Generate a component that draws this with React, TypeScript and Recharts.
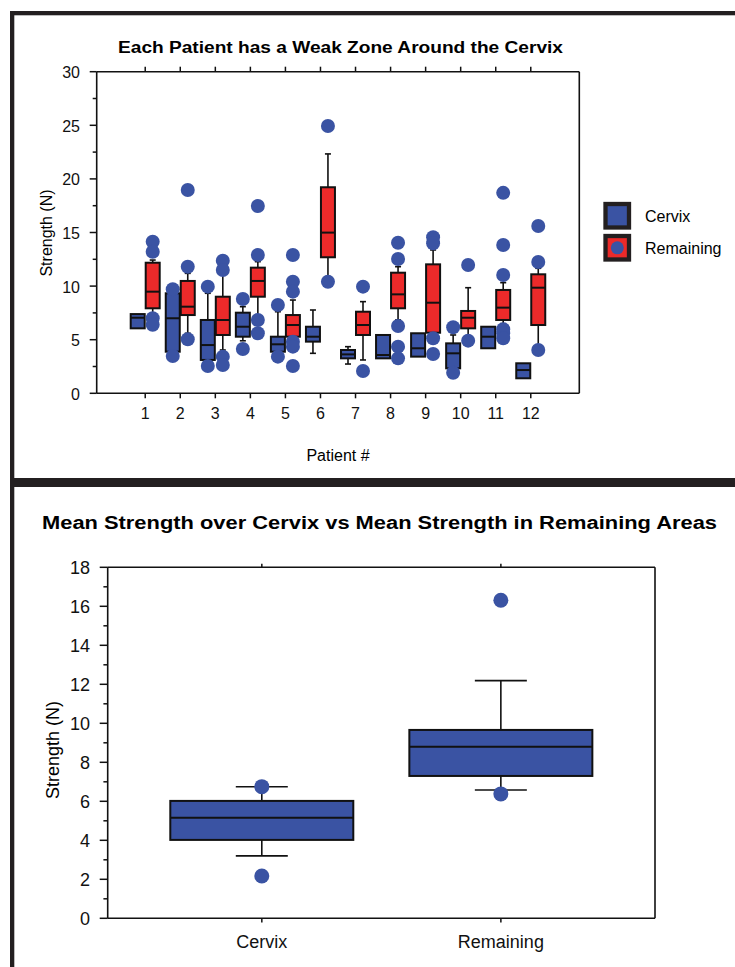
import { Bar, ComposedChart, XAxis, YAxis } from "recharts";

// ---- top panel: per patient box plots ----
const patients = ["1", "2", "3", "4", "5", "6", "7", "8", "9", "10", "11", "12"];

const cervixQ1 = [6.06, 3.88, 3.11, 5.28, 3.88, 4.82, 3.26, 3.26, 3.42, 2.33, 4.2, 1.4];
const cervixMed = [7.05, 7.0, 4.5, 6.21, 4.57, 5.28, 3.63, 3.57, 4.2, 3.73, 5.28, 2.17];
const cervixQ3 = [7.39, 9.33, 6.84, 7.52, 5.28, 6.21, 4.04, 5.44, 5.6, 4.66, 6.21, 2.8];
const cervixLo = [6.06, 3.88, 3.0, 4.9, 3.88, 3.73, 2.73, 3.26, 3.42, 2.33, 4.2, 1.4];
const cervixHi = [7.39, 9.33, 9.33, 8.08, 7.61, 7.77, 4.35, 5.44, 5.6, 5.44, 6.21, 2.8];
const cervixOut = [[], [9.7, 3.48], [9.95, 2.55], [8.8, 4.13], [8.24, 3.42], [], [], [], [], [6.16, 1.92], [], []];

const remainingQ1 = [7.93, 7.3, 5.44, 9.01, 5.28, 12.69, 5.44, 7.93, 5.65, 6.06, 6.84, 6.37];
const remainingMed = [9.48, 8.08, 6.84, 10.48, 6.37, 14.99, 6.37, 9.23, 8.45, 7.05, 7.99, 9.85];
const remainingQ3 = [12.18, 10.48, 9.01, 11.72, 7.3, 19.22, 7.61, 11.25, 12.03, 7.68, 9.64, 11.1];
const remainingLo = [7.2, 5.6, 4.04, 6.84, 5.0, 10.88, 3.11, 6.84, 5.65, 5.28, 6.5, 4.5];
const remainingHi = [12.43, 11.19, 11.5, 12.28, 8.7, 22.33, 8.55, 11.81, 13.37, 9.85, 10.32, 11.66];
const remainingOut = [
  [14.14, 13.2, 7.0, 6.4],
  [18.96, 11.81, 5.04],
  [12.37, 11.5, 3.42, 2.64],
  [17.47, 12.9, 6.84, 5.6],
  [12.9, 10.41, 9.48, 4.82, 4.35, 2.55],
  [24.93, 10.41],
  [9.95, 2.08],
  [14.05, 12.53, 6.28, 4.35, 3.26],
  [14.55, 14.0, 5.13, 3.67],
  [11.97, 4.91],
  [18.7, 13.83, 11.04, 5.97, 5.6, 5.13],
  [15.6, 12.25, 4.04],
];

const topTicks = [0, 2.5, 5, 7.5, 10, 12.5, 15, 17.5, 20, 22.5, 25, 27.5, 30];

// ---- bottom panel: means ----
const groups = ["Cervix", "Remaining"];
const meanQ1 = [4.02, 7.3];
const meanMed = [5.16, 8.8];
const meanQ3 = [6.02, 9.66];
const meanLo = [3.2, 6.58];
const meanHi = [6.75, 12.19];
const meanOut = [[6.75, 2.17], [16.31, 6.38]];

const bottomTicks = [0, 1, 2, 3, 4, 5, 6, 7, 8, 9, 10, 11, 12, 13, 14, 15, 16, 17, 18];

const BLUE = "#3a53a3";
const RED = "#ec2a2a";
const INK = "#111";
const FONT = '"Liberation Sans", Arial, Helvetica, sans-serif';

const stats = (q1: number[], med: number[], q3: number[], lo: number[], hi: number[], out: number[][], i: number) => ({
  q1: q1[i], med: med[i], q3: q3[i], lo: lo[i], hi: hi[i], out: out[i],
});

const topData = patients.map((p, i) => ({
  patient: p,
  cervix: [cervixQ1[i], cervixQ3[i]],
  remaining: [remainingQ1[i], remainingQ3[i]],
  cervixStats: stats(cervixQ1, cervixMed, cervixQ3, cervixLo, cervixHi, cervixOut, i),
  remainingStats: stats(remainingQ1, remainingMed, remainingQ3, remainingLo, remainingHi, remainingOut, i),
}));

const bottomData = groups.map((g, i) => ({
  group: g,
  box: [meanQ1[i], meanQ3[i]],
  boxStats: stats(meanQ1, meanMed, meanQ3, meanLo, meanHi, meanOut, i),
}));

// box drawn from the bar rectangle; other values placed with the same y scale
function boxShape(statsKey: string, fill: string, capW: number, r: number) {
  return (props: any) => {
    const { x, y, width, height, payload } = props;
    const s = payload[statsKey];
    const top = Math.min(y, y + height);
    const bot = Math.max(y, y + height);
    const k = (bot - top) / (s.q3 - s.q1);
    const py = (v: number) => bot - (v - s.q1) * k;
    const cx = x + width / 2;
    return (
      <g>
        {s.hi > s.q3 && (
          <g stroke={INK} strokeWidth={1.6}>
            <line x1={cx} x2={cx} y1={top} y2={py(s.hi)} />
            <line x1={cx - capW / 2} x2={cx + capW / 2} y1={py(s.hi)} y2={py(s.hi)} />
          </g>
        )}
        {s.lo < s.q1 && (
          <g stroke={INK} strokeWidth={1.6}>
            <line x1={cx} x2={cx} y1={bot} y2={py(s.lo)} />
            <line x1={cx - capW / 2} x2={cx + capW / 2} y1={py(s.lo)} y2={py(s.lo)} />
          </g>
        )}
        <rect x={x} y={top} width={width} height={bot - top} fill={fill} stroke={INK} strokeWidth={2} />
        <line x1={x} x2={x + width} y1={py(s.med)} y2={py(s.med)} stroke={INK} strokeWidth={2} />
        {s.out.map((v: number, j: number) => (
          <circle key={j} cx={cx} cy={py(v)} r={r} fill={BLUE} />
        ))}
      </g>
    );
  };
}

function yTick(side: "left" | "right", isMajor: (v: number) => boolean, majorLen: number, minorLen: number, gap: number, fontSize: number) {
  return (props: any) => {
    const { x, y, payload } = props;
    const major = isMajor(payload.value);
    const len = major ? majorLen : minorLen;
    const dir = side === "left" ? -1 : 1;
    return (
      <g>
        <line x1={x} x2={x + dir * len} y1={y} y2={y} stroke={INK} strokeWidth={1.5} />
        {side === "left" && major && (
          <text x={x - majorLen - gap} y={y + 1} textAnchor="end" dominantBaseline="central" fontSize={fontSize} fontFamily={FONT} fill={INK}>
            {payload.value}
          </text>
        )}
      </g>
    );
  };
}

function xTick(side: "top" | "bottom", len: number, labelDy: number, fontSize: number) {
  return (props: any) => {
    const { x, y, payload } = props;
    const dir = side === "top" ? -1 : 1;
    return (
      <g>
        <line x1={x} x2={x} y1={y} y2={y + dir * len} stroke={INK} strokeWidth={1.5} />
        {side === "bottom" && (
          <text x={x} y={y + labelDy} textAnchor="middle" dominantBaseline="central" fontSize={fontSize} fontFamily={FONT} fill={INK}>
            {payload.value}
          </text>
        )}
      </g>
    );
  };
}

const axisLine = { stroke: INK, strokeWidth: 1.6 };

function Frame() {
  return (
    <svg width={735} height={967} style={{ position: "absolute", left: 0, top: 0 }}>
      <rect x={10} y={11} width={725} height={4.3} fill="#231f20" />
      <rect x={10} y={11} width={4.3} height={956} fill="#231f20" />
      <rect x={10} y={478} width={725} height={9} fill="#231f20" />

      <text x={340.5} y={47} textAnchor="middle" dominantBaseline="central" fontSize={16} fontWeight="bold" fontFamily={FONT} textLength={445} lengthAdjust="spacingAndGlyphs">
        Each Patient has a Weak Zone Around the Cervix
      </text>
      <text x={338} y={455} textAnchor="middle" dominantBaseline="central" fontSize={16} fontFamily={FONT}>
        Patient #
      </text>
      <text x={0} y={0} transform="translate(46 233) rotate(-90)" textAnchor="middle" dominantBaseline="central" fontSize={16} fontFamily={FONT}>
        Strength (N)
      </text>

      <g fontFamily={FONT} fontSize={16}>
        <rect x={605.5} y={204} width={23.5} height={23.5} fill={BLUE} stroke="#231f20" strokeWidth={4.3} />
        <text x={645} y={216.5} dominantBaseline="central">{groups[0]}</text>
        <rect x={605.5} y={236} width={23.5} height={23.5} fill={RED} stroke="#231f20" strokeWidth={4.3} />
        <circle cx={617.3} cy={247.8} r={6.5} fill={BLUE} />
        <text x={645} y={248.3} dominantBaseline="central">{groups[1]}</text>
      </g>

      <text x={379.5} y={523} textAnchor="middle" dominantBaseline="central" fontSize={18} fontWeight="bold" fontFamily={FONT} textLength={675} lengthAdjust="spacingAndGlyphs">
        Mean Strength over Cervix vs Mean Strength in Remaining Areas
      </text>
      <text x={0} y={0} transform="translate(53 750) rotate(-90)" textAnchor="middle" dominantBaseline="central" fontSize={18} fontFamily={FONT}>
        Strength (N)
      </text>
    </svg>
  );
}

export default function App() {
  return (
    <div style={{ position: "absolute", left: 0, top: 0, width: 735, height: 967, background: "#fff", overflow: "hidden" }}>
      <Frame />

      <div style={{ position: "absolute", left: 0, top: 0 }}>
        <ComposedChart width={735} height={478} data={topData} margin={{ top: 70.7, left: 95.7, right: 154.7, bottom: 83.7 }} barGap={1}>
          <XAxis dataKey="patient" height={1} padding={{ left: 31, right: 31 }} interval={0} axisLine={axisLine} tickLine={false} tickSize={0} tickMargin={0} tick={xTick("bottom", 5, 20, 16)} />
          <XAxis xAxisId="top" orientation="top" dataKey="patient" height={1} padding={{ left: 31, right: 31 }} interval={0} axisLine={axisLine} tickLine={false} tickSize={0} tickMargin={0} tick={xTick("top", 5, 0, 16)} />
          <YAxis type="number" domain={[0, 30]} ticks={topTicks} interval={0} width={1} axisLine={axisLine} tickLine={false} tickSize={0} tickMargin={0} tick={yTick("left", (v) => v % 5 === 0, 7, 4, 9.7, 16)} />
          <YAxis yAxisId="right" orientation="right" type="number" domain={[0, 30]} ticks={topTicks} interval={0} width={1} axisLine={axisLine} tickLine={false} tickSize={0} tickMargin={0} tick={yTick("right", (v) => v % 5 === 0, 6, 4, 0, 16)} />
          <Bar dataKey="cervix" barSize={14} isAnimationActive={false} shape={boxShape("cervixStats", BLUE, 6, 7)} />
          <Bar dataKey="remaining" barSize={14} isAnimationActive={false} shape={boxShape("remainingStats", RED, 6, 7)} />
        </ComposedChart>
      </div>

      <div style={{ position: "absolute", left: 0, top: 487 }}>
        <ComposedChart width={735} height={480} data={bottomData} margin={{ top: 79.3, left: 106.7, right: 79, bottom: 47.7 }}>
          <XAxis dataKey="group" height={1} padding={{ left: 34.6, right: 34.6 }} interval={0} axisLine={axisLine} tickLine={false} tickSize={0} tickMargin={0} tick={xTick("bottom", 4.3, 24, 18)} />
          <XAxis xAxisId="top" orientation="top" dataKey="group" height={1} padding={{ left: 34.6, right: 34.6 }} interval={0} axisLine={axisLine} tickLine={false} tickSize={0} tickMargin={0} tick={xTick("top", 3.5, 0, 18)} />
          <YAxis type="number" domain={[0, 18]} ticks={bottomTicks} interval={0} width={1} axisLine={axisLine} tickLine={false} tickSize={0} tickMargin={0} tick={yTick("left", (v) => v % 2 === 0, 8, 4.3, 9.7, 18)} />
          <YAxis yAxisId="right" orientation="right" type="number" domain={[0, 18]} ticks={bottomTicks} interval={0} width={1} axisLine={axisLine} tickLine={false} tickSize={0} tickMargin={0} tick={yTick("right", (v) => v % 2 === 0, 8, 4.3, 0, 18)} />
          <Bar dataKey="box" barSize={183} isAnimationActive={false} shape={boxShape("boxStats", BLUE, 52, 7.5)} />
        </ComposedChart>
      </div>
    </div>
  );
}
